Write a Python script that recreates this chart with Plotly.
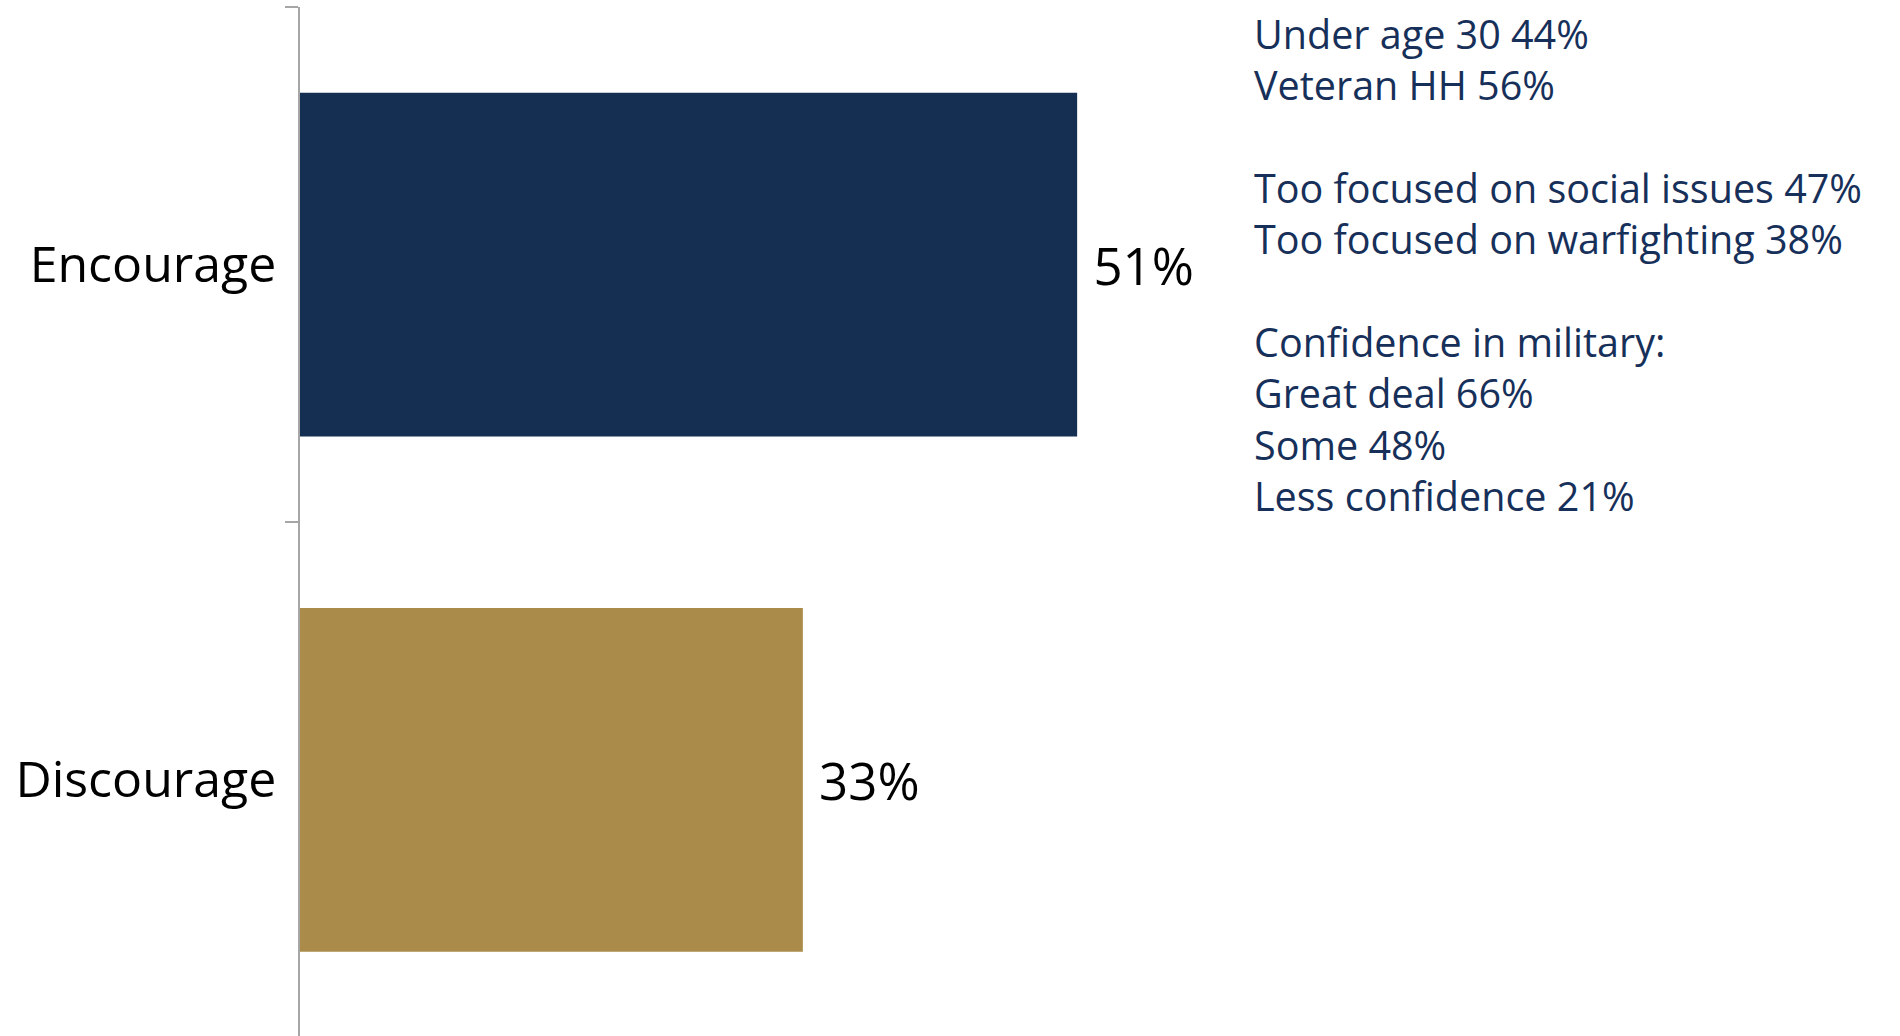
import plotly.graph_objects as go

categories = ["Encourage", "Discourage"]
values = [51, 33]
bar_colors = ["#152F52", "#AA8B4A"]

note_lines = [
    "Under age 30 44%",
    "Veteran HH 56%",
    "",
    "Too focused on social issues 47%",
    "Too focused on warfighting 38%",
    "",
    "Confidence in military:",
    "Great deal 66%",
    "Some 48%",
    "Less confidence 21%",
]

FONT = "Open Sans"

fig = go.Figure(
    go.Bar(
        y=categories,
        x=values,
        orientation="h",
        marker=dict(color=bar_colors, line=dict(width=0)),
        texttemplate="\u00a0%{x}%",
        textposition="outside",
        textfont=dict(family=FONT, size=51, color="#000000"),
        cliponaxis=False,
        hoverinfo="skip",
    )
)

fig.update_layout(
    width=1900,
    height=1036,
    margin=dict(l=300, r=0, t=7, b=0),
    paper_bgcolor="white",
    plot_bgcolor="white",
    bargap=0.333,
    showlegend=False,
    xaxis=dict(range=[0, 105], visible=False, fixedrange=True),
    yaxis=dict(
        categoryorder="array",
        categoryarray=categories,
        range=[1.497, -0.5],
        showline=True,
        linecolor="#A6A6A6",
        linewidth=1.5,
        ticks="outside",
        tickson="boundaries",
        ticklen=13,
        tickcolor="#A6A6A6",
        tickwidth=1.5,
        ticklabelstandoff=12,
        showgrid=False,
        zeroline=False,
        tickfont=dict(family=FONT, size=50, color="#000000"),
        fixedrange=True,
    ),
    annotations=[
        dict(
            xref="paper",
            yref="paper",
            x=0.595,
            y=1.002,
            xanchor="left",
            yanchor="top",
            align="left",
            showarrow=False,
            text="<br>".join(note_lines),
            font=dict(family=FONT, size=39.5, color="#17305A"),
        )
    ],
)

fig.write_html(
    "out.html",
    config={"displayModeBar": False},
    post_script="document.body.style.margin='0';document.body.style.overflow='hidden';",
)
